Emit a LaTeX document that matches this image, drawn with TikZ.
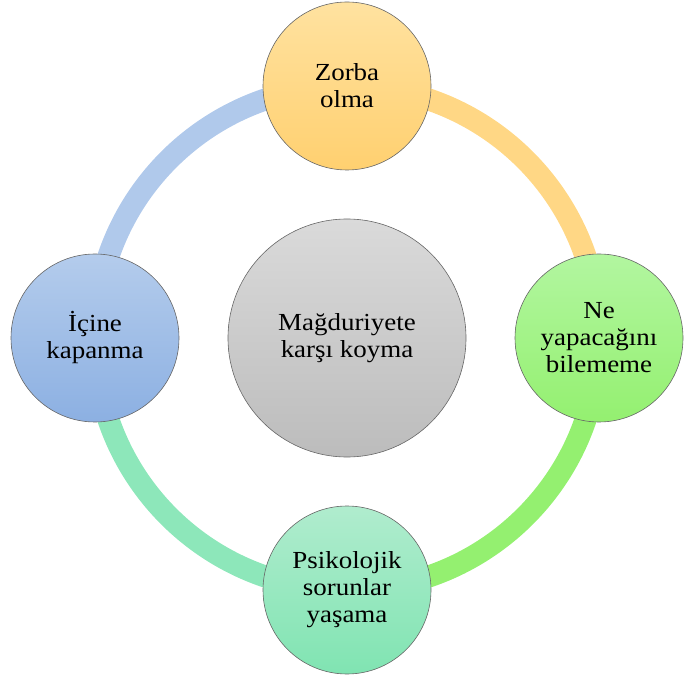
\documentclass[tikz,border=0pt]{standalone}
\usepackage{fontspec}
\setmainfont{Liberation Serif}
\newfontfamily\timesfont[FakeStretch=1.1]{Liberation Serif}
\usepackage{tikz}
\usetikzlibrary{shapes,backgrounds}

\definecolor{orangeA}{RGB}{255,226,160}
\definecolor{orangeB}{RGB}{255,208,112}
\definecolor{greenA}{RGB}{178,246,160}
\definecolor{greenB}{RGB}{148,240,112}
\definecolor{blueA}{RGB}{180,204,236}
\definecolor{blueB}{RGB}{140,176,226}
\definecolor{mintA}{RGB}{176,236,206}
\definecolor{mintB}{RGB}{128,228,178}
\definecolor{grayA}{RGB}{218,218,218}
\definecolor{grayB}{RGB}{188,188,188}

\tikzset{
  bubble/.style={circle, draw=black!60, line width=0.6pt, minimum size=168pt, inner sep=0pt,
    align=center, font=\timesfont\fontsize{24.5}{27}\selectfont},
  ring/.style={line width=22pt}
}

\begin{document}
\begin{tikzpicture}[x=1pt, y=1pt]
    \useasboundingbox (0,0) rectangle (684,680);

    % Middle
    \node (karsi) [bubble, minimum size=238pt, top color=grayA, bottom color=grayB] at (347,342) {Mağduriyete\\karşı koyma};

    % Around
    \node (zorba) [bubble, top color=orangeA, bottom color=orangeB] at (347,594) {Zorba\\olma};
    \node (bilmeme) [bubble, top color=greenA, bottom color=greenB] at (599,342) {Ne\\yapacağını\\bilememe};
    \node (sorun) [bubble, top color=mintA, bottom color=mintB] at (347,90) {Psikolojik\\sorunlar\\yaşama};
    \node (icine) [bubble, top color=blueA, bottom color=blueB] at (95,342) {İçine\\kapanma};

    % Ring
    \begin{scope}[on background layer]
        \draw[ring, draw=orangeB!85!white] (zorba.center) to[bend left=45] (bilmeme.center);
        \draw[ring, draw=greenB] (bilmeme.center) to[bend left=45] (sorun.center);
        \draw[ring, draw=mintB!90!white] (sorun.center) to[bend left=45] (icine.center);
        \draw[ring, draw=blueA!90!blueB] (icine.center) to[bend left=45] (zorba.center);
    \end{scope}
\end{tikzpicture}
\end{document}
